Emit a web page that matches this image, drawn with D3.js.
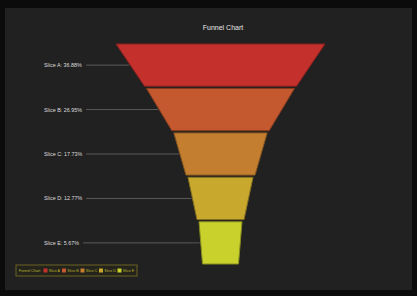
<!DOCTYPE html>
<html>
<head>
<meta charset="utf-8">
<script src="https://cdn.jsdelivr.net/npm/d3@7"></script>
<style>
  html, body { margin: 0; padding: 0; background: #0b0b0b; }
  svg { display: block; }
</style>
</head>
<body>
<div id="chart"></div>
<script>
const slices = ['Slice A', 'Slice B', 'Slice C', 'Slice D', 'Slice E'];
const shares = [36.88, 26.95, 17.73, 12.77, 5.67];
const colors = ['#c4302c', '#c4582e', '#c47e2f', '#c9a82e', '#c9d12c'];
const title = 'Funnel Chart';

const width = 417;
const height = 296;
const cx = 220.5;
const funnelTop = 44;
const funnelBottom = 264;
const neckTop = 43;
const neckBottom = 36;

const svg = d3.select('#chart').append('svg')
  .attr('width', width)
  .attr('height', height);

svg.append('rect')
  .attr('x', 5).attr('y', 8)
  .attr('width', 407).attr('height', 282)
  .attr('fill', '#212121');

svg.append('text')
  .attr('x', 223).attr('y', 29.5)
  .attr('text-anchor', 'middle')
  .attr('fill', '#e6e6e6')
  .attr('font-family', 'Liberation Sans, Arial, sans-serif')
  .attr('font-size', 7)
  .text(title);

const scaleY = d3.scaleBand()
  .domain(slices)
  .range([funnelTop, funnelBottom])
  .paddingInner(0.05);

const scaleW = d3.scalePow()
  .exponent(1.1)
  .domain([0, d3.max(shares)])
  .range([0, 209]);

const topW = shares.map(v => Math.max(scaleW(v), neckTop));
const botW = topW.map((w, i) => (i < topW.length - 1 ? topW[i + 1] + 4 : neckBottom));

const data = slices.map((s, i) => ({ name: s, value: shares[i], color: colors[i], tw: topW[i], bw: botW[i] }));

const g = svg.append('g');

g.selectAll('path.slice')
  .data(data)
  .enter()
  .append('path')
  .attr('class', 'slice')
  .attr('d', d => {
    const y0 = scaleY(d.name);
    const y1 = y0 + scaleY.bandwidth();
    return `M${cx - d.tw / 2},${y0}L${cx + d.tw / 2},${y0}L${cx + d.bw / 2},${y1}L${cx - d.bw / 2},${y1}Z`;
  })
  .attr('fill', d => d.color)
  .attr('stroke', d => d3.color(d.color).darker(1.1))
  .attr('stroke-width', 1);

// leader lines
g.selectAll('line.leader')
  .data(data)
  .enter()
  .append('line')
  .attr('class', 'leader')
  .attr('x1', d => (d.name === 'Slice E' ? 83 : 86))
  .attr('x2', d => cx - (d.tw + d.bw) / 4 - 1)
  .attr('y1', d => scaleY(d.name) + scaleY.bandwidth() / 2)
  .attr('y2', d => scaleY(d.name) + scaleY.bandwidth() / 2)
  .attr('stroke', '#5a5a5a')
  .attr('stroke-width', 1);

g.selectAll('text.label')
  .data(data)
  .enter()
  .append('text')
  .attr('class', 'label')
  .attr('x', 44)
  .attr('y', d => scaleY(d.name) + scaleY.bandwidth() / 2 + 2)
  .attr('fill', '#dcdcdc')
  .attr('font-family', 'Liberation Sans, Arial, sans-serif')
  .attr('font-size', 5.4)
  .text(d => `${d.name}: ${d.value.toFixed(2)}%`);

// legend
const legend = svg.append('g').attr('transform', 'translate(16,265)');
legend.append('rect')
  .attr('width', 121).attr('height', 11)
  .attr('fill', '#25241c')
  .attr('stroke', '#6a6322')
  .attr('stroke-width', 1);

legend.append('text')
  .attr('x', 3).attr('y', 7)
  .attr('fill', '#bdb52c')
  .attr('font-family', 'Liberation Sans, Arial, sans-serif')
  .attr('font-size', 3.7)
  .text(title);

const items = legend.selectAll('g.item')
  .data(data)
  .enter()
  .append('g')
  .attr('class', 'item')
  .attr('transform', (d, i) => `translate(${27.5 + i * 18.5},0)`);

items.append('rect')
  .attr('x', 0).attr('y', 3.5)
  .attr('width', 4).attr('height', 4)
  .attr('fill', d => d.color);

items.append('text')
  .attr('x', 5.3).attr('y', 7)
  .attr('fill', '#bdb52c')
  .attr('font-family', 'Liberation Sans, Arial, sans-serif')
  .attr('font-size', 3.7)
  .text(d => d.name);
</script>
</body>
</html>
